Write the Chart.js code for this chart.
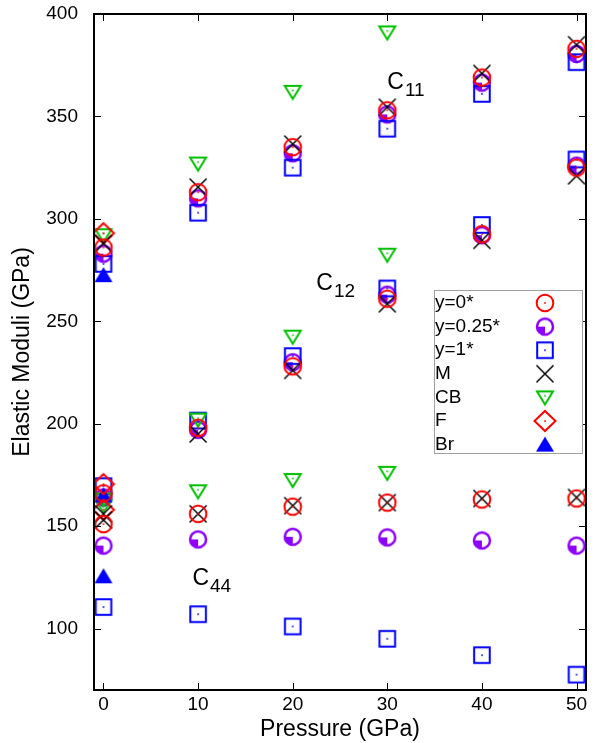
<!DOCTYPE html>
<html>
<head>
<meta charset="utf-8">
<script src="https://cdn.jsdelivr.net/npm/chart.js@4/dist/chart.umd.min.js"></script>
<style>
  html, body { margin: 0; padding: 0; background: #fff; }
  canvas { display: block; }
</style>
</head>
<body>
<canvas id="moduliChart" width="596" height="743"></canvas>
<script>
// pressures (GPa) and tick values
var pressure = [0, 10, 20, 30, 40, 50];
var xTicks = [0, 10, 20, 30, 40, 50];
var yTicks = [100, 150, 200, 250, 300, 350, 400];

// y=0*
var y0C11 = [286, 313, 335, 353, 369, 383];
var y0C12 = [166, 198, 228, 261, 292.5, 325];
var y0C44 = [151, 156, 159.5, 161.5, 163, 163.5];
// y=0.25*
var y025C11 = [283, 310, 332, 351, 366.5, 380.5];
var y025C12 = [164, 197, 230, 263, 292, 326];
var y025C44 = [140.5, 143.5, 144.8, 144.5, 143, 140.5];
// y=1*
var y1C11 = [278, 303, 325, 344, 361, 376.5];
var y1C12 = [169.5, 201.5, 233, 266, 297, 329];
var y1C44 = [110.5, 107, 101, 95, 87, 77.5];
// M
var mC11 = [288, 315.5, 336.5, 354.5, 371, 385];
var mC12 = [156, 195, 226, 258.5, 289.5, 321];
var mC44 = [153, 156, 160, 161.5, 163.5, 164];
// CB
var cbC11 = [292, 327, 362, 391, null, null];
var cbC12 = [163, 202, 242.5, 282.5, null, null];
var cbC44 = [160, 167, 172.5, 176, null, null];
// F
var fC11 = [293, null, null, null, null, null];
var fC12 = [170.5, null, null, null, null, null];
var fC44 = [158, null, null, null, null, null];
// Br
var brC11 = [272.5, null, null, null, null, null];
var brC12 = [165, null, null, null, null, null];
var brC44 = [125.5, null, null, null, null, null];

var seriesLabels = ['y=0*', 'y=0.25*', 'y=1*', 'M', 'CB', 'F', 'Br'];

// modulus labels, placed in data coordinates
var moduliNames = [['C', '11'], ['C', '12'], ['C', '44']];
var moduliAt = [[30.0, 363.4], [22.5, 265.2], [9.4, 121.2]];

function pts() {
    var out = [];
    for (var a = 0; a < arguments.length; a++) {
        var arr = arguments[a];
        for (var i = 0; i < pressure.length; i++) {
            if (arr[i] !== null) out.push({ x: pressure[i], y: arr[i] });
        }
    }
    return out;
}

function makeMarker(size, draw) {
    var c = document.createElement('canvas');
    c.width = size; c.height = size;
    var g = c.getContext('2d');
    g.translate(size / 2, size / 2);
    draw(g);
    return c;
}
function dot(g, color, y) {
    g.fillStyle = color;
    g.fillRect(-0.8, (y || 0) - 0.8, 1.6, 1.6);
}

var RED = '#ff0000', PURPLE = '#8c00ff', BLUE = '#0000ff', GREEN = '#00c000';

var markers = [
    makeMarker(24, function (g) {
        g.strokeStyle = RED; g.lineWidth = 2;
        g.beginPath(); g.arc(0, 0, 8.3, 0, Math.PI * 2); g.stroke();
        dot(g, RED);
    }),
    makeMarker(24, function (g) {
        g.fillStyle = PURPLE;
        g.beginPath(); g.moveTo(0, 0); g.arc(0, 0, 8, Math.PI / 2, Math.PI); g.closePath(); g.fill();
        g.strokeStyle = PURPLE; g.lineWidth = 2.5;
        g.beginPath(); g.arc(0, 0, 8, 0, Math.PI * 2); g.stroke();
    }),
    makeMarker(24, function (g) {
        g.strokeStyle = BLUE; g.lineWidth = 2;
        g.strokeRect(-7.8, -7.8, 15.6, 15.6);
        dot(g, BLUE);
    }),
    makeMarker(24, function (g) {
        g.strokeStyle = '#000'; g.lineWidth = 1.5;
        g.beginPath();
        g.moveTo(-8.5, -8.5); g.lineTo(8.5, 8.5);
        g.moveTo(8.5, -8.5); g.lineTo(-8.5, 8.5);
        g.stroke();
    }),
    makeMarker(24, function (g) {
        g.strokeStyle = GREEN; g.lineWidth = 2;
        g.beginPath(); g.moveTo(-8, -6); g.lineTo(8, -6); g.lineTo(0, 7); g.closePath(); g.stroke();
        dot(g, GREEN, -1.5);
    }),
    makeMarker(28, function (g) {
        g.strokeStyle = RED; g.lineWidth = 2;
        g.beginPath(); g.moveTo(0, -10); g.lineTo(10.5, 0); g.lineTo(0, 10); g.lineTo(-10.5, 0); g.closePath(); g.stroke();
        dot(g, RED);
    }),
    makeMarker(24, function (g) {
        g.fillStyle = BLUE;
        g.beginPath(); g.moveTo(0, -8); g.lineTo(9, 7); g.lineTo(-9, 7); g.closePath(); g.fill();
    })
];

var seriesData = [
    pts(y0C11, y0C12, y0C44),
    pts(y025C11, y025C12, y025C44),
    pts(y1C11, y1C12, y1C44),
    pts(mC11, mC12, mC44),
    pts(cbC11, cbC12, cbC44),
    pts(fC11, fC12, fC44),
    pts(brC11, brC12, brC44)
];
// draw order: lower value ends on top
var drawOrder = [0, 6, 5, 1, 4, 2, 3];

var FONT = '"Liberation Sans", Arial, sans-serif';

// frame, inward ticks, modulus labels and the boxed legend
var decorations = {
    id: 'decorations',
    afterDraw: function (chart) {
        var ctx = chart.ctx, a = chart.chartArea;
        var xs = chart.scales.x, ys = chart.scales.y;
        ctx.save();
        ctx.strokeStyle = '#000';
        ctx.lineWidth = 1;
        ctx.beginPath();
        xTicks.forEach(function (v) {
            var px = Math.round(xs.getPixelForValue(v)) + 0.5;
            ctx.moveTo(px, a.bottom); ctx.lineTo(px, a.bottom - 7);
            ctx.moveTo(px, a.top); ctx.lineTo(px, a.top + 7);
        });
        yTicks.forEach(function (v) {
            var py = Math.round(ys.getPixelForValue(v)) + 0.5;
            ctx.moveTo(a.left, py); ctx.lineTo(a.left + 7, py);
            ctx.moveTo(a.right, py); ctx.lineTo(a.right - 7, py);
        });
        ctx.stroke();
        ctx.lineWidth = 2;
        ctx.strokeRect(a.left, a.top, a.right - a.left, a.bottom - a.top);

        // C11, C12, C44
        ctx.fillStyle = '#000';
        ctx.textBaseline = 'alphabetic';
        ctx.textAlign = 'left';
        moduliNames.forEach(function (n, i) {
            var px = xs.getPixelForValue(moduliAt[i][0]);
            var py = ys.getPixelForValue(moduliAt[i][1]);
            ctx.font = '23px ' + FONT;
            ctx.fillText(n[0], px, py);
            var w = ctx.measureText(n[0]).width;
            ctx.font = '19px ' + FONT;
            ctx.fillText(n[1], px + w + 1, py + 7);
        });

        // legend
        var bx = 434, by = 290, bw = 148, bh = 163;
        ctx.fillStyle = '#fff';
        ctx.fillRect(bx, by, bw, bh);
        ctx.strokeStyle = '#a0a0a0';
        ctx.lineWidth = 1;
        ctx.strokeRect(bx + 0.5, by + 0.5, bw, bh);
        ctx.font = '19px ' + FONT;
        ctx.textBaseline = 'middle';
        ctx.fillStyle = '#000';
        chart.data.datasets.forEach(function (ds, i) {
            var cy = by + 13 + i * 23.6;
            ctx.fillText(ds.label, bx + 1, cy);
            var m = ds.pointStyle;
            ctx.drawImage(m, 545 - m.width / 2, cy - m.height / 2);
        });
        ctx.restore();
    }
};

new Chart(document.getElementById('moduliChart').getContext('2d'), {
    type: 'scatter',
    data: {
        datasets: seriesLabels.map(function (lab, i) {
            return {
                label: lab,
                data: seriesData[i],
                pointStyle: markers[i],
                pointRadius: 9,
                pointHoverRadius: 9,
                order: drawOrder[i]
            };
        })
    },
    options: {
        responsive: false,
        animation: false,
        devicePixelRatio: 1,
        layout: { padding: { left: 0, right: 9, top: 14, bottom: 0 } },
        plugins: {
            legend: { display: false },
            tooltip: { enabled: false }
        },
        scales: {
            x: {
                type: 'linear',
                min: -1,
                max: 51,
                afterBuildTicks: function (s) { s.ticks = xTicks.map(function (v) { return { value: v }; }); },
                afterFit: function (s) { s.height = 53; s.paddingLeft = 0; s.paddingRight = 0; },
                grid: { display: false, drawTicks: false },
                border: { display: false },
                ticks: { color: '#000', padding: 3, font: { family: FONT, size: 19 }, maxRotation: 0 },
                title: { display: true, text: 'Pressure (GPa)', color: '#000', padding: { top: 0, bottom: 0 }, font: { family: FONT, size: 23 } }
            },
            y: {
                type: 'linear',
                min: 70,
                max: 400,
                afterBuildTicks: function (s) { s.ticks = yTicks.map(function (v) { return { value: v }; }); },
                afterFit: function (s) { s.width = 94; s.paddingTop = 0; s.paddingBottom = 0; },
                grid: { display: false, drawTicks: false },
                border: { display: false },
                ticks: { color: '#000', padding: 16, font: { family: FONT, size: 19 } },
                title: { display: true, text: 'Elastic Moduli (GPa)', color: '#000', padding: { top: 9, bottom: 0 }, font: { family: FONT, size: 23 } }
            }
        }
    },
    plugins: [decorations]
});
</script>
</body>
</html>
